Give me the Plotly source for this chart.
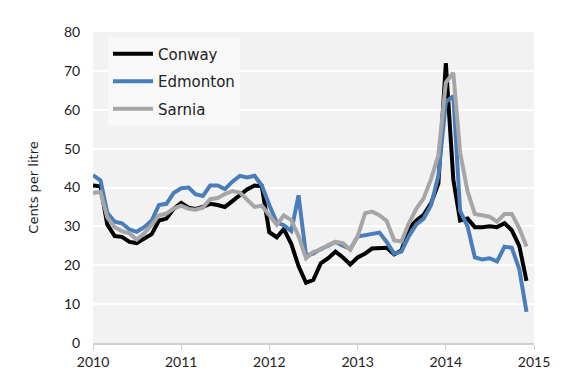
import plotly.graph_objects as go
import pandas as pd

months = pd.date_range("2010-01-01", "2014-12-01", freq="MS")

conway = [
    40.5, 40.3, 30.5, 27.5, 27.3, 26.0, 25.7, 26.8, 28.0, 31.5, 32.0, 34.5,
    36.0, 34.8, 34.5, 35.0, 35.8, 35.5, 35.0, 36.5, 38.0, 39.5, 40.5, 40.3,
    28.5, 27.2, 29.3, 25.5, 19.8, 15.5, 16.2, 20.5, 21.8, 23.5, 22.0, 20.2,
    22.0, 23.0, 24.3, 24.5, 24.5, 22.8, 23.8, 29.5, 31.5, 33.0, 36.0, 41.0,
    72.0, 42.0, 31.5, 32.0, 29.8, 29.8, 30.0, 29.8, 30.8, 29.0, 25.0, 16.0,
]
edmonton = [
    43.2, 41.8, 33.5, 31.2, 30.8, 29.2, 28.6, 29.8, 31.5, 35.5, 35.8, 38.6,
    39.8, 40.0, 38.3, 37.8, 40.5, 40.5, 39.6, 41.5, 43.0, 42.6, 43.0, 40.5,
    35.5, 31.0, 30.3, 28.8, 38.0, 22.5, 23.0, 24.2, 25.0, 26.0, 25.0, 24.2,
    27.4, 27.8, 28.2, 28.4, 26.0, 23.0, 23.5, 27.5, 30.5, 32.0, 35.5, 43.0,
    62.0, 63.5, 34.0, 30.0, 22.0, 21.5, 21.8, 21.0, 24.8, 24.5, 19.0, 8.0,
]
sarnia = [
    38.6, 38.9, 32.3, 29.8, 28.8, 28.2, 26.6, 28.2, 30.4, 32.8, 33.3, 34.6,
    35.3, 34.5, 34.3, 34.8, 37.0, 37.3, 38.3, 39.1, 38.7, 37.0, 35.0, 35.3,
    33.0, 30.4, 32.8, 31.6, 27.5, 21.8, 23.4, 24.0, 25.2, 26.0, 25.7, 24.0,
    27.5, 33.4, 33.8, 32.9, 31.4, 26.4, 26.1, 30.8, 34.6, 37.2, 42.2, 48.3,
    67.0, 69.5, 49.0, 39.0, 33.2, 32.8, 32.5, 31.2, 33.2, 33.2, 29.5, 24.8,
]

series = [("Conway", conway, "#000000"),
          ("Edmonton", edmonton, "#4a7ebb"),
          ("Sarnia", sarnia, "#a6a6a6")]

year_ticks = ["2010-01-01", "2011-01-01", "2012-01-01", "2013-01-01", "2014-01-01", "2015-01-01"]
year_labels = ["2010", "2011", "2012", "2013", "2014", "2015"]
y_ticks = [0, 10, 20, 30, 40, 50, 60, 70, 80]

FONT = "Lato, Open Sans, sans-serif"
WIDE = "DejaVu Sans, sans-serif"

fig = go.Figure()
for name, vals, color in series:
    fig.add_trace(go.Scatter(
        x=months, y=vals, mode="lines", name=name, legendgroup=name,
        line=dict(color=color, width=4),
    ))

fig.update_layout(
    width=580, height=392,
    margin=dict(l=85, r=54, t=24, b=57),
    paper_bgcolor="white",
    plot_bgcolor="#f2f2f2",
    font=dict(family=FONT, size=14, color="#222222"),
    showlegend=True,
    legend=dict(
        x=0.034, y=0.982, xanchor="left", yanchor="top",
        bgcolor="#f8f8f8", borderwidth=0,
        font=dict(family=WIDE, size=15, color="#222222"),
        tracegroupgap=5, itemwidth=40,
    ),
    xaxis=dict(
        range=["2010-01-01", "2015-01-01"],
        tickvals=year_ticks, ticktext=year_labels,
        showgrid=False, zeroline=False,
        showline=True, linecolor="#d0d0d0", linewidth=1.5,
        ticks="outside", ticklen=5, tickcolor="#d0d0d0",
        tickfont=dict(size=14),
        automargin=False,
    ),
    yaxis=dict(
        range=[0, 80], tickvals=y_ticks,
        showgrid=True, gridcolor="white", gridwidth=2,
        zeroline=False, showline=False,
        ticks="outside", ticklen=9, tickcolor="rgba(0,0,0,0)",
        tickfont=dict(size=14),
        automargin=False,
        title=dict(text="Cents per litre", font=dict(family=WIDE, size=13), standoff=22),
    ),
)

fig.write_html("out.html")
